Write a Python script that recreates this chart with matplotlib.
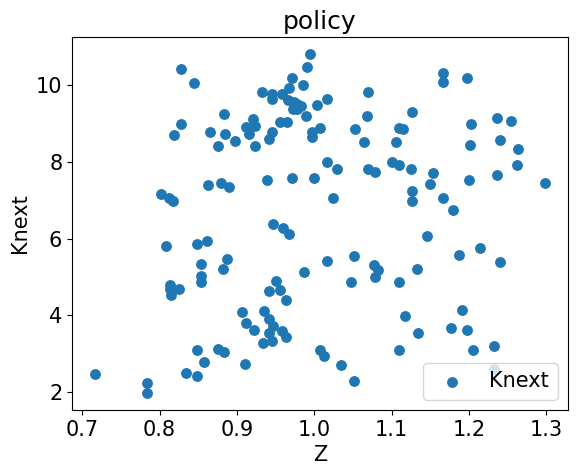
import matplotlib
matplotlib.use("Agg")
import matplotlib.pyplot as plt

z = [0.716, 0.784, 0.784, 0.802, 0.812, 0.817, 0.809, 0.849, 0.861, 0.853, 0.8875, 0.8815,
     0.853, 0.853, 0.814, 0.814, 0.8255, 0.815, 0.849, 0.8755, 0.883, 0.858, 0.834,
     0.849, 0.911,
     0.828, 0.844, 0.883, 0.828, 0.819, 0.865, 0.885, 0.897, 0.876, 0.863, 0.880, 0.890,
     0.994, 0.991, 0.971, 0.986, 0.933, 0.946, 0.946, 0.958, 0.967, 0.966, 0.974, 0.978,
     0.983, 0.972, 0.978, 0.989, 1.004, 1.016, 1.069, 1.068, 1.053, 1.064, 1.109, 1.106,
     0.921, 0.912, 0.924, 0.916, 0.924, 0.945, 0.941, 0.956, 0.965, 0.997, 1.007, 0.997,
     1.017, 1.029, 1.069, 1.078, 1.100, 1.109, 0.939, 0.971, 1.000, 1.024,
     0.947, 0.960, 0.968, 1.016, 1.051, 1.077, 1.082, 1.079, 1.048, 1.109, 0.987, 0.950,
     0.941, 0.956, 0.963, 0.907, 0.935, 0.912, 0.941, 0.947, 0.922, 0.942, 0.959, 0.964,
     0.934, 0.945, 1.008, 1.013, 1.035, 1.052, 1.109,
     1.167, 1.166, 1.198, 1.126, 1.115, 1.203, 1.236, 1.255, 1.201, 1.240, 1.264, 1.125,
     1.154, 1.150, 1.200, 1.236, 1.262, 1.299, 1.126, 1.127, 1.167, 1.180,
     1.146, 1.187, 1.215, 1.240, 1.133, 1.118, 1.191, 1.134, 1.177, 1.198, 1.205, 1.233,
     1.232]
knext = [2.47, 2.23, 1.97, 7.16, 7.07, 6.99, 5.81, 5.86, 5.94, 5.33, 5.47, 5.20,
         5.03, 4.86, 4.80, 4.69, 4.68, 4.53, 3.08, 3.11, 3.05, 2.79, 2.49,
         2.41, 2.73,
         10.44, 10.05, 9.26, 8.99, 8.70, 8.79, 8.73, 8.54, 8.42, 7.39, 7.46, 7.36,
         10.82, 10.49, 10.20, 10.02, 9.82, 9.77, 9.64, 9.78, 9.92, 9.61, 9.57, 9.51,
         9.46, 9.39, 9.39, 9.20, 9.49, 9.65, 9.83, 9.20, 8.86, 8.52, 8.89, 8.51,
         9.13, 8.92, 8.94, 8.72, 8.41, 8.79, 8.60, 9.04, 9.04, 8.79, 8.89, 8.66,
         7.99, 7.83, 7.82, 7.75, 7.99, 7.92, 7.54, 7.57, 7.57, 7.07,
         6.37, 6.27, 6.12, 5.41, 5.55, 5.32, 5.18, 4.99, 4.86, 4.86, 5.13, 4.89,
         4.62, 4.65, 4.39, 4.08, 4.10, 3.81, 3.91, 3.73, 3.62, 3.53, 3.60, 3.44,
         3.28, 3.34, 3.10, 2.94, 2.70, 2.28, 3.10,
         10.32, 10.10, 10.20, 9.31, 8.86, 8.99, 9.15, 9.08, 8.44, 8.57, 8.33, 7.81,
         7.70, 7.42, 7.54, 7.67, 7.91, 7.46, 7.25, 6.97, 7.07, 6.76,
         6.07, 5.57, 5.76, 5.39, 5.20, 3.97, 4.15, 3.54, 3.68, 3.61, 3.10, 3.20,
         2.59]

fig = plt.figure(figsize=(5.77, 4.72), dpi=100)
ax = fig.add_axes([0.1248, 0.1314, 0.8596, 0.7902])
ax.scatter(z, knext, s=46, color="#1f77b4", label="Knext")
ax.set_title("policy", fontsize=18)
ax.set_xlabel("Z", fontsize=15)
ax.set_ylabel("Knext", fontsize=15)
ax.tick_params(labelsize=15)
ax.set_yticks([2, 4, 6, 8, 10])
ax.legend(loc="lower right", fontsize=15)
fig.savefig("out.png", dpi=100)
